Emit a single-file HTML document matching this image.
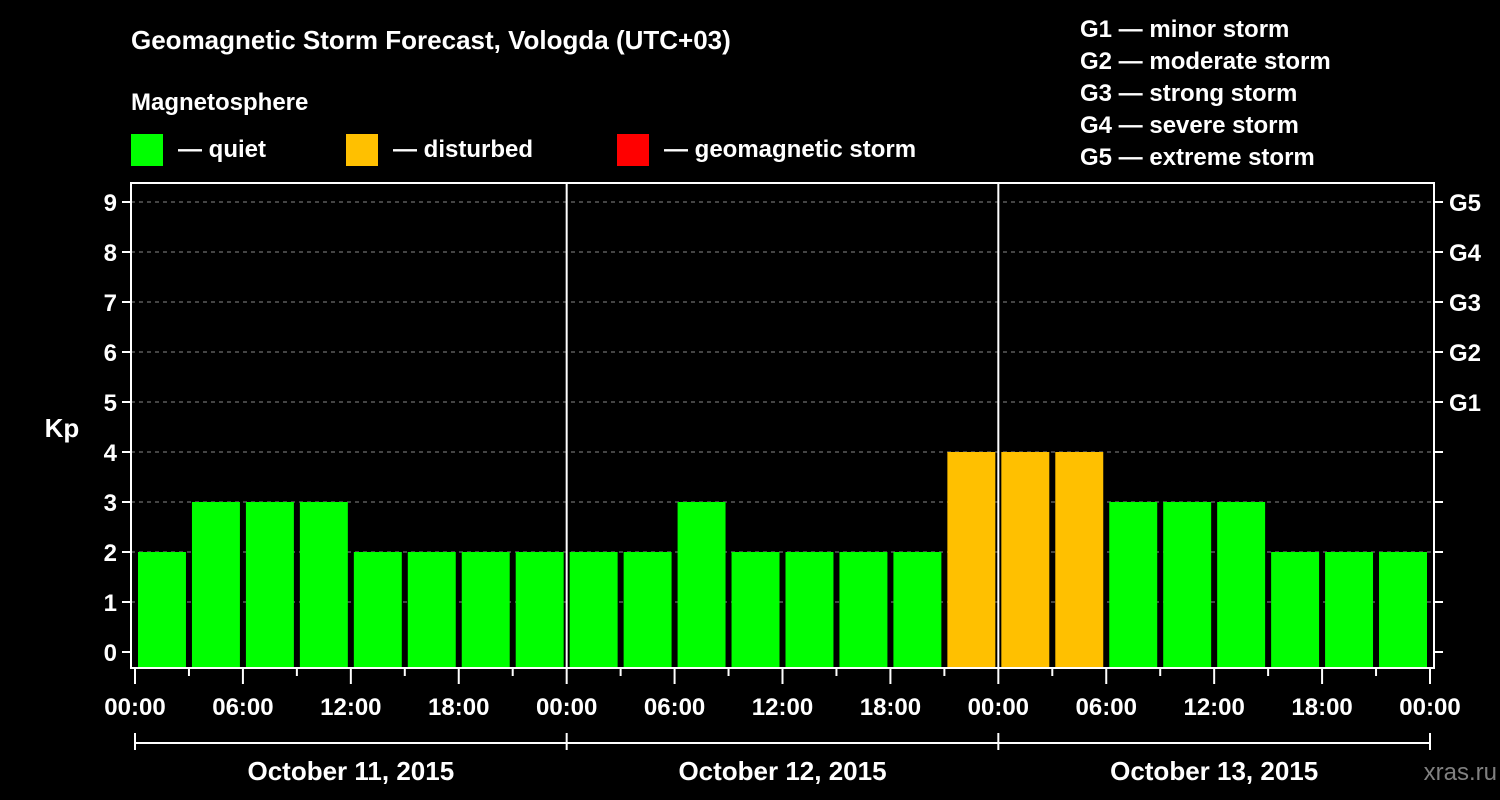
<!DOCTYPE html>
<html><head><meta charset="utf-8"><style>
body{margin:0;background:#000;width:1500px;height:800px;overflow:hidden}
svg{display:block;font-family:"Liberation Sans",sans-serif;font-weight:bold;fill:#fff}
</style></head><body>
<svg id="c" width="1500" height="800">
<text x="131" y="49" font-size="26">Geomagnetic Storm Forecast, Vologda (UTC+03)</text>
<text x="131" y="110" font-size="24">Magnetosphere</text>
<g>
<rect x="131" y="134" width="32" height="32" fill="#00ff00"/>
<text x="178" y="157" font-size="24">— quiet</text>
<rect x="346" y="134" width="32" height="32" fill="#ffc000"/>
<text x="393" y="157" font-size="24">— disturbed</text>
<rect x="617" y="134" width="32" height="32" fill="#ff0000"/>
<text x="664" y="157" font-size="24">— geomagnetic storm</text>
</g>
<g font-size="24">
<text x="1080" y="37">G1 — minor storm</text>
<text x="1080" y="69">G2 — moderate storm</text>
<text x="1080" y="101">G3 — strong storm</text>
<text x="1080" y="133">G4 — severe storm</text>
<text x="1080" y="165">G5 — extreme storm</text>
</g>
<text x="62" y="437" font-size="26" text-anchor="middle">Kp</text>
<g id="plot"></g>
<text x="1497" y="780" font-size="24" text-anchor="end" fill="#808080" style="fill:#808080" font-weight="normal">xras.ru</text>
</svg>
<script>
const kpValues=[2,3,3,3,2,2,2,2, 2,2,3,2,2,2,2,4, 4,4,3,3,3,2,2,2];
const dayLabels=["October 11, 2015","October 12, 2015","October 13, 2015"];
const hourLabels=["00:00","06:00","12:00","18:00"];
const yTicks=[0,1,2,3,4,5,6,7,8,9];
const gLabels=["G1","G2","G3","G4","G5"];
const NS="http://www.w3.org/2000/svg";
const g=document.getElementById('plot');
const X0=135,X1=1430,FL=131,FR=1434,FT=183,FB=668;
const slot=(X1-X0)/kpValues.length;
const xs=h=>X0+(X1-X0)*h/72;
const ys=v=>652-50*v;
function mk(t,a){const e=document.createElementNS(NS,t);for(const k in a)e.setAttribute(k,a[k]);g.appendChild(e);return e;}
yTicks.forEach(v=>{
 if(v>0){const l=mk('line',{x1:FL,x2:FR,y1:ys(v),y2:ys(v),stroke:'#888','stroke-dasharray':'4,4','stroke-width':1});
 
 }
 const t=mk('line',{x1:FL-9,x2:FL,y1:ys(v),y2:ys(v),stroke:'#fff','stroke-width':2});
 
 
 const t2=mk('line',{x1:FR,x2:FR+9,y1:ys(v),y2:ys(v),stroke:'#fff','stroke-width':2});
 
 
 const tx=mk('text',{x:FL-14,y:ys(v)+9,'font-size':24,'text-anchor':'end'});tx.textContent=v;
 
 
});
gLabels.forEach((s,i)=>{const tx=mk('text',{x:FR+15,y:ys(5+i)+9,'font-size':24});tx.textContent=s;
 
 });
kpValues.forEach((v,i)=>{
 const col=v>=5?'#ff0000':v>=4?'#ffc000':'#00ff00';
 const r=mk('rect',{x:X0+slot*i+3,y:ys(v),width:slot-6,height:FB-1-ys(v),fill:col});
 
 
});
[1,2].forEach(d=>{const l=mk('line',{x1:xs(24*d),x2:xs(24*d),y1:FT,y2:FB,stroke:'#fff','stroke-width':2});
 
 });
const fr=mk('rect',{x:FL,y:FT,width:FR-FL,height:FB-FT,fill:'none',stroke:'#fff','stroke-width':2});


for(let h=0;h<=72;h+=3){
 const l=mk('line',{x1:xs(h),x2:xs(h),y1:FB,y2:FB+(h%6==0?16:8),stroke:'#fff','stroke-width':2});
 
 
 if(h%6==0){const tx=mk('text',{x:xs(h),y:715,'font-size':24,'text-anchor':'middle'});tx.textContent=hourLabels[(h%24)/6];
 
 }
}
const bl=mk('line',{x1:xs(0),x2:xs(72),y1:743,y2:743,stroke:'#fff','stroke-width':2});


for(let d=0;d<=3;d++){const l=mk('line',{x1:xs(24*d),x2:xs(24*d),y1:733,y2:750,stroke:'#fff','stroke-width':2});
 
 }
dayLabels.forEach((s,i)=>{const tx=mk('text',{x:xs(24*i+12),y:780,'font-size':26,'text-anchor':'middle'});tx.textContent=s;
 
 });
</script>
</body></html>
